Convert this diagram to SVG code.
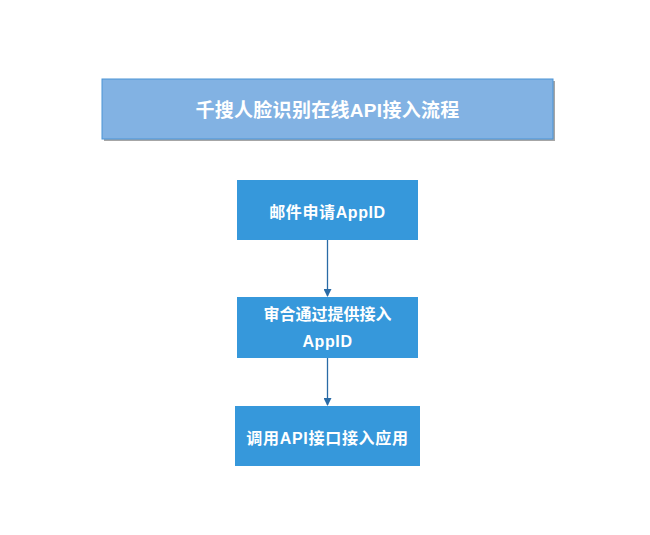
<svg xmlns="http://www.w3.org/2000/svg" width="650" height="535" viewBox="0 0 650 535">
<defs>
<marker id="arr" markerWidth="8" markerHeight="8" refX="7" refY="4" orient="auto" markerUnits="userSpaceOnUse">
<path d="M0,0 L8,4 L0,8 Z" fill="#2A6BA6"/>
</marker>
</defs>
<style>
.box{fill:#3698DB;}
.t{font-family:"Liberation Sans","Noto Sans CJK SC",sans-serif;font-weight:bold;fill:#ffffff;text-anchor:middle;}
.c{stroke:#2A6BA6;stroke-width:1.3;fill:none;}
</style>
<rect width="650" height="535" fill="#ffffff"/>
<g id="title">
<rect x="104" y="81" width="451" height="60" fill="#A6A6A6"/>
<rect x="102" y="79" width="451" height="60" fill="#82B2E3" stroke="#4A94D6" stroke-width="1"/>
<text class="t" x="327.5" y="117" font-size="19" letter-spacing="0.3">千搜人脸识别在线API接入流程</text>
</g>
<g id="n1">
<rect class="box" x="237" y="180" width="181" height="60"/>
<text class="t" x="327.5" y="218" font-size="16" letter-spacing="0.6">邮件申请AppID</text>
</g>
<g id="n2">
<rect class="box" x="237" y="297" width="181" height="61"/>
<text class="t" x="327.5" y="320" font-size="16">审合通过提供接入</text>
<text class="t" x="327.5" y="347" font-size="16" letter-spacing="0.6">AppID</text>
</g>
<g id="n3">
<rect class="box" x="235" y="406" width="185" height="60"/>
<text class="t" x="327.5" y="444" font-size="16" letter-spacing="0.7">调用API接口接入应用</text>
</g>
<g id="connectors">
<line class="c" x1="327.5" y1="240" x2="327.5" y2="296" marker-end="url(#arr)"/>
<line class="c" x1="327.5" y1="358" x2="327.5" y2="405" marker-end="url(#arr)"/>
</g>
</svg>
